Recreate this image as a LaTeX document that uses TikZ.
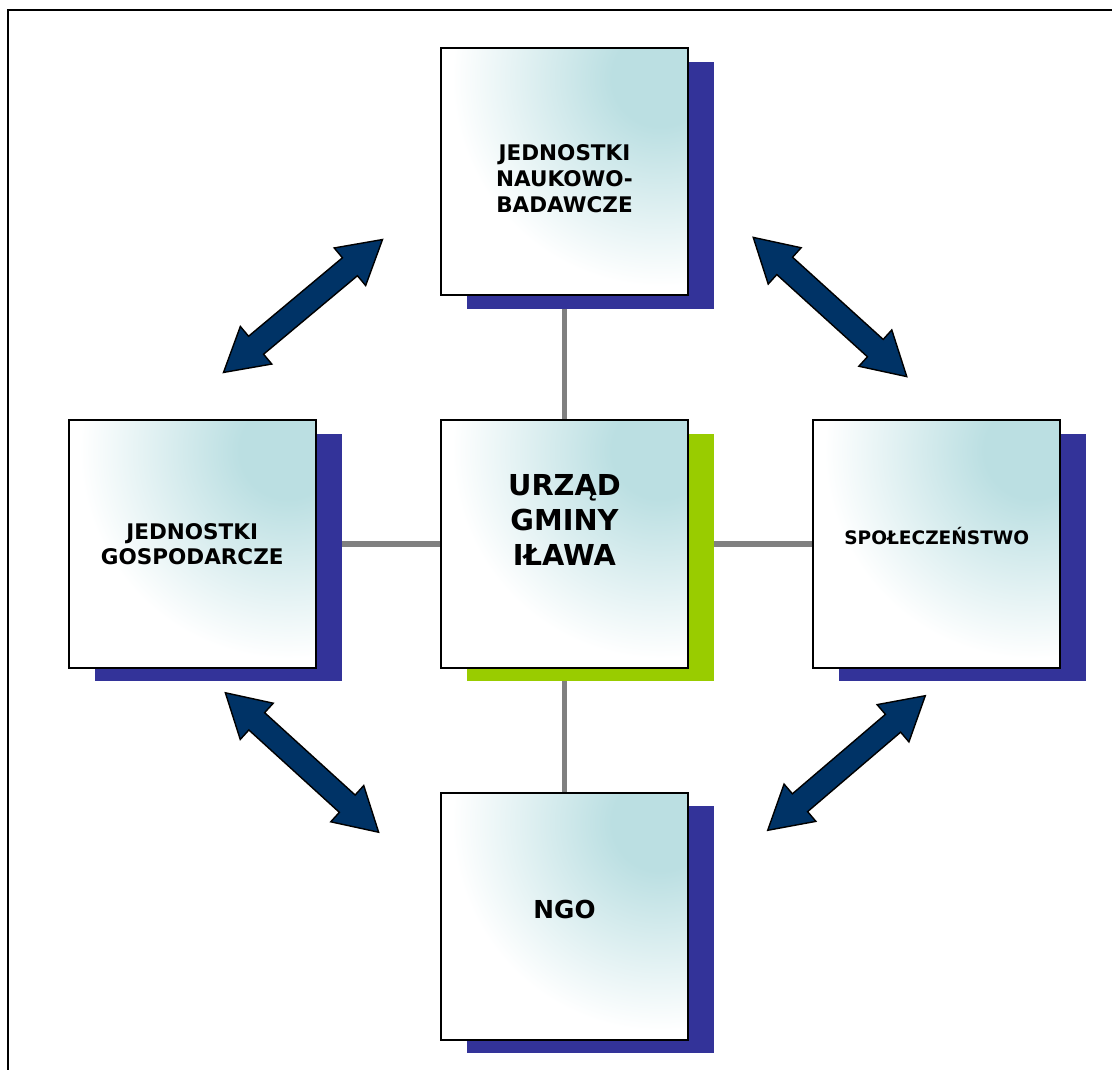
\documentclass[tikz,border=0pt]{standalone}
\usepackage{fontspec}
\setmainfont{DejaVu Sans}
\usetikzlibrary{positioning,shapes.arrows,shadows,backgrounds}
\definecolor{navy}{HTML}{003366}
\definecolor{indigo}{HTML}{333399}
\definecolor{lime}{HTML}{99CC00}
\definecolor{mist}{HTML}{BBDFE2}
\definecolor{rail}{HTML}{808080}
\pgfdeclareradialshading{glow}{\pgfpoint{0bp}{0bp}}{color(0bp)=(mist); color(3bp)=(mist); color(13bp)=(white); color(50bp)=(white)}

\begin{document}
\begin{tikzpicture}[
  x=0.025cm, y=-0.025cm,
  font=\bfseries,
  node distance=3.08cm,
  unit/.style={draw=black, fill=white, line width=1.4pt, minimum size=6.175cm,
    inner sep=0pt, align=center,
    general shadow={fill=#1, shadow xshift=0.65cm, shadow yshift=-0.34cm},
    path picture={\shade[shading=glow]
      ([xshift=-0.7cm,yshift=-0.75cm]path picture bounding box.north east) circle (10cm);}},
  unit/.default=indigo,
  link/.style={draw=rail, line width=3.56pt},
  biarrow/.style={double arrow, draw=black, line width=1pt, fill=navy,
    minimum height=5.18cm, minimum width=1.19cm, inner sep=0pt, inner ysep=0.275cm,
    double arrow head extend=0.32cm, double arrow tip angle=60}
]
\useasboundingbox (0,0) rectangle (1112,1070);
\draw[line width=1.4pt] (8,10) rectangle (1140,1100);

\node[unit=lime, font=\bfseries\fontsize{20.5}{24.9}\selectfont] (hub) at (564.5,544)
  {URZĄD\\GMINY\\IŁAWA\\[9pt]\mbox{}};
\node[unit, above=of hub, font=\bfseries\fontsize{15.3}{18.2}\selectfont] (science)
  {\mbox{}\\[3pt]JEDNOSTKI\\NAUKOWO-\\BADAWCZE};
\node[unit, left=of hub, font=\bfseries\fontsize{15.3}{17.8}\selectfont] (business)
  {JEDNOSTKI\\GOSPODARCZE};
\node[unit, right=of hub, font=\bfseries\fontsize{13.2}{15}\selectfont] (society)
  {SPOŁECZEŃSTWO\\[-4pt]\mbox{}};
\node[unit, below=of hub, font=\bfseries\fontsize{17.6}{22}\selectfont] (ngo)
  {NGO\\[-12pt]\mbox{}};

% two-way arrows between the outer units
\node[biarrow, rotate=39.9] (nwarrow) at (303,306) {};
\node[biarrow, rotate=-42.2] (nearrow) at (830,307) {};
\node[biarrow, rotate=-42.3] (swarrow) at (302,762.5) {};
\node[biarrow, rotate=40.5] (searrow) at (846.5,763) {};

\begin{scope}[on background layer]
\draw[link] (hub) -- (science);
\draw[link] (hub) -- (business);
\draw[link] (hub) -- (society);
\draw[link] (hub) -- (ngo);
\end{scope}
\end{tikzpicture}
\end{document}
